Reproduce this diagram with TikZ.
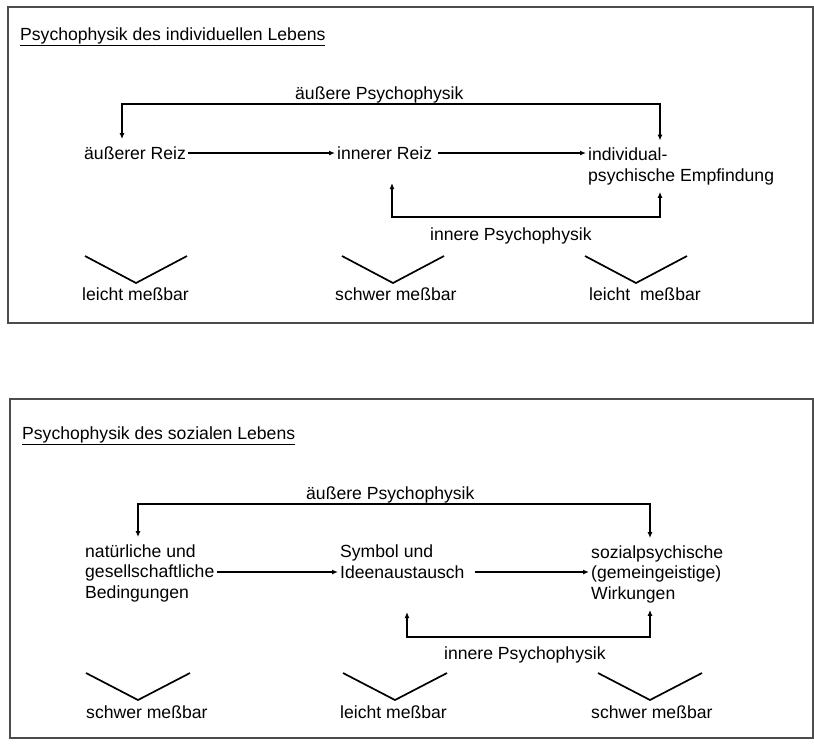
\documentclass[tikz,border=0pt]{standalone}
\usepackage{fontspec}
\setmainfont{Liberation Sans}
\usetikzlibrary{arrows.meta}

\tikzset{
  txt/.style={anchor=base west, align=left, inner xsep=2pt, inner ysep=7pt},
  panel/.style={draw=black!70, line width=1.8pt},
  link/.style={line width=1.3pt},
  chev/.style={line width=1.7pt},
}

\begin{document}
\begin{tikzpicture}[x=1pt, y=-1pt, >={Latex[length=6pt,width=5pt]},
  font=\fontsize{17.6}{20.5}\selectfont]
\useasboundingbox (0,0) rectangle (814,745);

%========================
% Top: individual life
%========================
\draw[panel] (8,7) rectangle (813,323);
\node[txt] (titI) at (18,40) {\underline{Psychophysik des individuellen Lebens}};

% row of states (base = last line)
\node[txt] (reizA) at (82,159) {äußerer Reiz};
\node[txt] (reizI) at (335,159) {innerer Reiz};
\node[txt] (empf) at (586,181) {individual-\\psychische Empfindung};
\coordinate (rowI) at (0,153);
\draw[link,->] (reizA.east |- rowI) -- (reizI.west |- rowI);
\draw[link,->,shorten <=4pt] (reizI.east |- rowI) -- (empf.west |- rowI);

% outer loop
\node[txt] (ausI) at (293,99) {äußere Psychophysik};
\coordinate (ausIl) at (122,104);
\coordinate (ausIr) at (660,104);
\draw[link,<->] (reizA.north -| ausIl) -- (ausIl) -- (ausIr) -- (empf.north -| ausIr);

% inner loop
\node[txt] (innI) at (428,240) {innere Psychophysik};
\coordinate (innIl) at (392,217);
\coordinate (innIr) at (660,217);
\coordinate (innItip) at (392,183);
\draw[link,<->] (innItip) -- (innIl) -- (innIr) -- (empf.south -| innIr);

% measurability
\foreach \x/\y in {136/283, 393/283, 636/283}
  \draw[chev] (\x-51,\y-27) -- (\x,\y) -- (\x+51,\y-27);
\node[txt] (mesIa) at (80,300) {leicht meßbar};
\node[txt] (mesIb) at (333,300) {schwer meßbar};
\node[txt] (mesIc) at (587,300) {leicht\ \ meßbar};

%========================
% Bottom: social life
%========================
\draw[panel] (10,399) rectangle (813,738);
\node[txt] (titS) at (20,439) {\underline{Psychophysik des sozialen Lebens}};

% row of states (base = last line)
\node[txt] (bedg) at (83,598) {natürliche und\\gesellschaftliche\\Bedingungen};
\node[txt] (symb) at (338,578) {Symbol und\\Ideenaustausch};
\node[txt] (wirk) at (589,599) {sozialpsychische\\(gemeingeistige)\\Wirkungen};
\coordinate (rowS) at (0,572);
\draw[link,->] (bedg.east |- rowS) -- (symb.west |- rowS);
\draw[link,->,shorten <=8pt] (symb.east |- rowS) -- (wirk.west |- rowS);

% outer loop
\node[txt] (ausS) at (304,499) {äußere Psychophysik};
\coordinate (ausSl) at (138,504);
\coordinate (ausSr) at (650,504);
\draw[link,<->] (bedg.north -| ausSl) -- (ausSl) -- (ausSr) -- (wirk.north -| ausSr);

% inner loop
\node[txt] (innS) at (442,659) {innere Psychophysik};
\coordinate (innSl) at (407,637);
\coordinate (innSr) at (650,637);
\coordinate (innStip) at (407,612);
\draw[link,<->] (innStip) -- (innSl) -- (innSr) -- (wirk.south -| innSr);

% measurability
\foreach \x/\y in {138/700, 395/700, 650/700}
  \draw[chev] (\x-52,\y-27) -- (\x,\y) -- (\x+52,\y-27);
\node[txt] (mesSa) at (84,718) {schwer meßbar};
\node[txt] (mesSb) at (338,718) {leicht meßbar};
\node[txt] (mesSc) at (589,718) {schwer meßbar};

\end{tikzpicture}
\end{document}
